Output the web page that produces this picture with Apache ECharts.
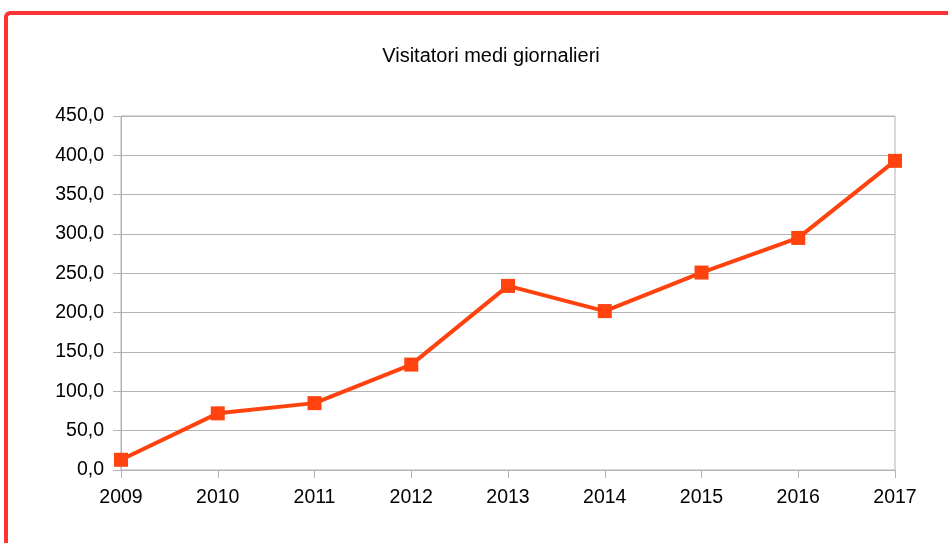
<!DOCTYPE html>
<html>
<head>
<meta charset="utf-8">
<script src="https://cdn.jsdelivr.net/npm/echarts@6/dist/echarts.min.js"></script>
<style>
html,body{margin:0;padding:0;background:#fff;}
#frame{position:absolute;left:4px;top:11px;width:950px;height:540px;border-top:4px solid #ff3333;border-left:4px solid #ff3333;border-top-left-radius:6px;box-sizing:border-box;}
#chart{position:absolute;left:0;top:0;width:948px;height:543px;}
</style>
</head>
<body>
<div id="frame"></div>
<div id="chart"></div>
<script>
const title = "Visitatori medi giornalieri";
const years = ["2009","2010","2011","2012","2013","2014","2015","2016","2017"];
const visitors = [13, 72, 85, 134, 234, 202, 251, 295, 393];
const yMin = 0, yMax = 450, yStep = 50;

const chart = echarts.init(document.getElementById('chart'), null, {renderer:'canvas'});
chart.setOption({
  animation: false,
  backgroundColor: 'transparent',
  title: {
    text: title, left: 486, top: 41, textAlign: 'center',
    textStyle: {fontFamily: 'Liberation Sans', fontSize: 20, fontWeight: 'normal', color: '#000'}
  },
  grid: {left: 121, right: 53, top: 116, bottom: 73, show: true, borderColor: '#b3b3b3', borderWidth: 1},
  xAxis: {
    type: 'category', data: years, boundaryGap: false,
    axisLine: {lineStyle: {color: '#b3b3b3', width: 1}},
    axisTick: {show: true, length: 8, lineStyle: {color: '#b3b3b3'}},
    axisLabel: {fontFamily: 'Liberation Sans', fontSize: 19.5, color: '#000', margin: 18},
    splitLine: {show: false}
  },
  yAxis: {
    type: 'value', min: yMin, max: yMax, interval: yStep,
    axisLine: {show: true, lineStyle: {color: '#b3b3b3', width: 1}},
    axisTick: {show: true, length: 8, lineStyle: {color: '#b3b3b3'}},
    axisLabel: {fontFamily: 'Liberation Sans', fontSize: 19.5, color: '#000', margin: 17,
      formatter: v => v.toFixed(1).replace('.', ',')},
    splitLine: {show: true, lineStyle: {color: '#b3b3b3', width: 1}}
  },
  series: [{
    type: 'line', data: visitors,
    symbol: 'rect', symbolSize: 14, showAllSymbol: true,
    lineStyle: {color: '#ff420e', width: 4},
    itemStyle: {color: '#ff420e'}
  }]
});
</script>
</body>
</html>
